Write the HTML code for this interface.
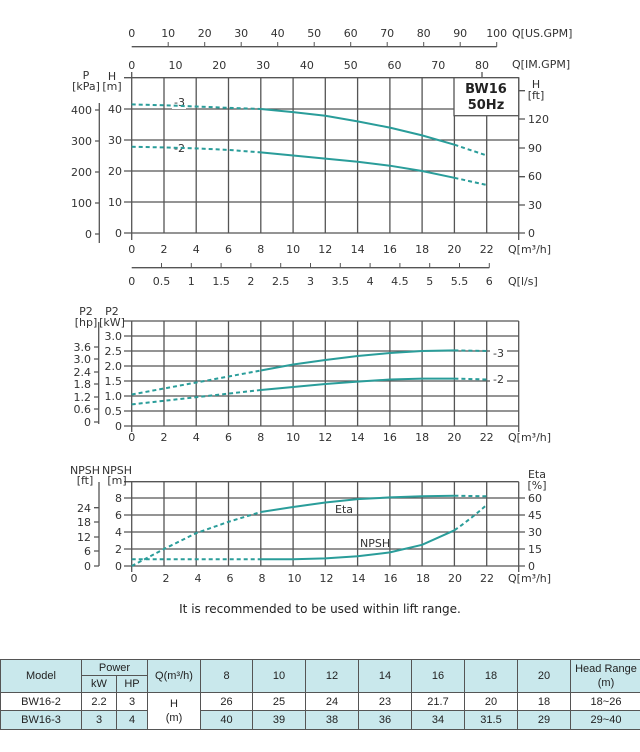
<!DOCTYPE html>
<html><head><meta charset="utf-8"><style>
body{margin:0;background:#fff;width:640px;height:752px;overflow:hidden;position:relative;font-family:"Liberation Sans",sans-serif}
svg{position:absolute;left:0;top:0}
svg text{font-family:"DejaVu Sans","Liberation Sans",sans-serif;font-size:11px;fill:#333}
table{position:absolute;left:0;top:659px;width:640px;border-collapse:collapse;font-size:11px;color:#222;table-layout:fixed}
td{border:1px solid #555;text-align:center;padding:0;line-height:14px}
.b{background:#c9e8ec}
</style></head><body>
<svg width="640" height="752" viewBox="0 0 640 752">
<g stroke="#555" stroke-width="1.3" fill="none">
<path d="M131.7 46.7H496.7"/>
<path d="M131.7 77.7V72M482 77.7V72"/>
<path d="M124 77.7H518.7M124 109H518.7M124 140H518.7M124 171H518.7M124 202H518.7M124 233H518.7"/>
<path d="M131.7 77.7V240M164 77.7V233M196.2 77.7V233M228.5 77.7V233M260.8 77.7V233M293.1 77.7V233M325.3 77.7V233M357.6 77.7V233M389.9 77.7V233M422.1 77.7V233M454.4 77.7V233M486.7 77.7V233M518.7 77.7V240"/>
<path d="M99.3 103V243M95 110H99.3M95 141H99.3M95 172H99.3M95 203H99.3M95 234H99.3"/>
<path d="M518.7 90.7H525M518.7 119H525M518.7 148H525M518.7 176.7H525M518.7 205H525M518.7 233H525"/>
<path d="M131.7 267.7H489.3"/>
<path d="M124 321H518.7M124 336H518.7M124 351H518.7M124 366H518.7M124 381H518.7M124 396H518.7M124 411H518.7M124 426H518.7"/>
<path d="M131.7 321V432M164 321V426M196.2 321V426M228.5 321V426M260.8 321V426M293.1 321V426M325.3 321V426M357.6 321V426M389.9 321V426M422.1 321V426M454.4 321V426M486.7 321V426M518.7 321V432"/>
<path d="M98.7 322V424M94 347H98.7M94 359H98.7M94 372H98.7M94 384H98.7M94 397H98.7M94 409H98.7M94 422H98.7"/>
<path d="M124 481.7H518.7M124 498H525M124 515H525M124 532H525M124 549H525M124 566H525"/>
<path d="M131.7 481.7V572M164 481.7V566M196.2 481.7V566M228.5 481.7V566M260.8 481.7V566M293.1 481.7V566M325.3 481.7V566M357.6 481.7V566M389.9 481.7V566M422.1 481.7V566M454.4 481.7V566M486.7 481.7V566M518.7 481.7V572"/>
<path d="M99 482V566M94 507.7H99M94 522H99M94 537H99M94 551H99M94 566H99"/>
</g>
<g stroke="#555" stroke-width="1">
<path d="M168.2 46.7V42M204.7 46.7V42M241.2 46.7V42M277.7 46.7V42M314.2 46.7V42M350.7 46.7V42M387.2 46.7V42M423.7 46.7V42M460.2 46.7V42M496.7 46.7V42"/>
<path d="M161.5 267.7V263M191.3 267.7V263M221.1 267.7V263M250.9 267.7V263M280.7 267.7V263M310.5 267.7V263M340.3 267.7V263M370.1 267.7V263M399.9 267.7V263M429.7 267.7V263M459.5 267.7V263M489.3 267.7V263"/>
</g>
<rect x="454" y="77.7" width="64.7" height="38" fill="#fff" stroke="#555" stroke-width="1.3"/>
<text x="486" y="93" text-anchor="middle" style="font-size:13px;font-weight:bold;fill:#222">BW16</text>
<text x="486" y="109" text-anchor="middle" style="font-size:13px;font-weight:bold;fill:#222">50Hz</text>
<rect x="490" y="344" width="17" height="14" fill="#fff"/>
<rect x="490" y="372" width="17" height="14" fill="#fff"/>
<g text-anchor="middle">
<text x="131.7" y="37">0</text><text x="168.2" y="37">10</text><text x="204.7" y="37">20</text><text x="241.2" y="37">30</text><text x="277.7" y="37">40</text><text x="314.2" y="37">50</text><text x="350.7" y="37">60</text><text x="387.2" y="37">70</text><text x="423.7" y="37">80</text><text x="460.2" y="37">90</text><text x="496.7" y="37">100</text>
<text x="131.7" y="69">0</text><text x="175.5" y="69">10</text><text x="219.3" y="69">20</text><text x="263.1" y="69">30</text><text x="306.9" y="69">40</text><text x="350.7" y="69">50</text><text x="394.5" y="69">60</text><text x="438.3" y="69">70</text><text x="482" y="69">80</text>
<text x="131.7" y="253">0</text><text x="164" y="253">2</text><text x="196.2" y="253">4</text><text x="228.5" y="253">6</text><text x="260.8" y="253">8</text><text x="293.1" y="253">10</text><text x="325.3" y="253">12</text><text x="357.6" y="253">14</text><text x="389.9" y="253">16</text><text x="422.1" y="253">18</text><text x="454.4" y="253">20</text><text x="486.7" y="253">22</text>
<text x="131.7" y="285">0</text><text x="161.5" y="285">0.5</text><text x="191.3" y="285">1</text><text x="221.1" y="285">1.5</text><text x="250.9" y="285">2</text><text x="280.7" y="285">2.5</text><text x="310.5" y="285">3</text><text x="340.3" y="285">3.5</text><text x="370.1" y="285">4</text><text x="399.9" y="285">4.5</text><text x="429.7" y="285">5</text><text x="459.5" y="285">5.5</text><text x="489.3" y="285">6</text>
<text x="131.7" y="441">0</text><text x="164" y="441">2</text><text x="196.2" y="441">4</text><text x="228.5" y="441">6</text><text x="260.8" y="441">8</text><text x="293.1" y="441">10</text><text x="325.3" y="441">12</text><text x="357.6" y="441">14</text><text x="389.9" y="441">16</text><text x="422.1" y="441">18</text><text x="454.4" y="441">20</text><text x="486.7" y="441">22</text>
<text x="134" y="582">0</text><text x="166" y="582">2</text><text x="198" y="582">4</text><text x="230" y="582">6</text><text x="262" y="582">8</text><text x="294.5" y="582">10</text><text x="326.5" y="582">12</text><text x="358.5" y="582">14</text><text x="390.5" y="582">16</text><text x="423" y="582">18</text><text x="455" y="582">20</text><text x="487" y="582">22</text>
<text x="86" y="79">P</text><text x="86" y="90">[kPa]</text><text x="112" y="80">H</text><text x="112" y="90">[m]</text>
<text x="536" y="88">H</text><text x="536" y="99">[ft]</text>
<text x="86" y="315">P2</text><text x="86" y="326">[hp]</text><text x="112" y="315">P2</text><text x="112" y="326">[kW]</text>
<text x="85" y="474">NPSH</text><text x="85" y="484">[ft]</text><text x="117" y="474">NPSH</text><text x="117" y="484">[m]</text>
<text x="537" y="478">Eta</text><text x="537" y="489">[%]</text>
</g>
<rect x="172" y="97" width="14" height="12" fill="#fff"/>
<rect x="172" y="143" width="14" height="12" fill="#fff"/>
<g text-anchor="start">
<text x="512" y="37">Q[US.GPM]</text><text x="512" y="68">Q[IM.GPM]</text><text x="508" y="253">Q[m³/h]</text><text x="508" y="285">Q[l/s]</text>
<text x="508" y="441">Q[m³/h]</text><text x="508" y="582">Q[m³/h]</text>
<text x="528" y="123">120</text><text x="528" y="152">90</text><text x="528" y="180">60</text><text x="528" y="209">30</text><text x="528" y="237">0</text>
<text x="528" y="502">60</text><text x="528" y="519">45</text><text x="528" y="536">30</text><text x="528" y="553">15</text><text x="528" y="570">0</text>
<text x="174" y="106">-3</text><text x="174" y="152">-2</text>
<text x="493" y="357">-3</text><text x="493" y="383">-2</text>
<text x="335" y="513">Eta</text><text x="360" y="547">NPSH</text>
</g>
<g text-anchor="end">
<text x="92" y="114">400</text><text x="92" y="145">300</text><text x="92" y="176">200</text><text x="92" y="207">100</text><text x="92" y="238">0</text>
<text x="122" y="113">40</text><text x="122" y="144">30</text><text x="122" y="175">20</text><text x="122" y="206">10</text><text x="122" y="237">0</text>
<text x="122" y="340">3.0</text><text x="122" y="355">2.5</text><text x="122" y="370">2.0</text><text x="122" y="385">1.5</text><text x="122" y="400">1.0</text><text x="122" y="415">0.5</text><text x="122" y="430">0</text>
<text x="91" y="351">3.6</text><text x="91" y="363">3.0</text><text x="91" y="376">2.4</text><text x="91" y="388">1.8</text><text x="91" y="401">1.2</text><text x="91" y="413">0.6</text><text x="91" y="426">0</text>
<text x="122" y="502">8</text><text x="122" y="519">6</text><text x="122" y="536">4</text><text x="122" y="553">2</text><text x="122" y="570">0</text>
<text x="91" y="512">24</text><text x="91" y="526">18</text><text x="91" y="541">12</text><text x="91" y="555">6</text><text x="91" y="570">0</text>
</g>
<g fill="none" stroke="#2a9d9a" stroke-width="2">
<g stroke-dasharray="4 3">
<path d="M131.7 104.4L164 105.3L196.2 106.5L228.5 107.8L260.8 109"/>
<path d="M454.4 144.7L486.7 155.5"/>
<path d="M131.7 146.8L164 147.4L196.2 148.4L228.5 149.9L260.8 152.4"/>
<path d="M454.4 177.8L486.7 185"/>
<path d="M131.7 394.5L260.8 370.5"/><path d="M454.4 350.4L486.7 351"/>
<path d="M131.7 404.4L260.8 390"/><path d="M454.4 378.6L486.7 379.5"/>
<path d="M131.7 566L164 549L196.2 533.1L228.5 521.8L260.8 512"/><path d="M454.4 495.7L486.7 496.3"/>
<path d="M131.7 559.2L260.8 559.2"/><path d="M454.4 530.3Q472 518 486.7 504.8"/>
</g>
<path d="M260.8 109L293.1 112.1L325.3 115.8L357.6 121.4L389.9 127.6L422.1 135.4L454.4 144.7"/>
<path d="M260.8 152.4L293.1 155.5L325.3 158.6L357.6 161.7L389.9 165.7L422.1 171L454.4 177.8"/>
<path d="M260.8 370.5L293.1 364.5L325.3 360L357.6 356L389.9 353L422.1 351L454.4 350.4"/>
<path d="M260.8 390L293.1 387L325.3 384L357.6 381.6L389.9 379.5L422.1 378.6L454.4 378.6"/>
<path d="M260.8 512L293.1 507L325.3 502.5L357.6 499.1L389.9 497.4L422.1 496.3L454.4 495.7"/>
<path d="M260.8 559.2L293.1 559.2L325.3 558.4L357.6 556.2L389.9 552.4L422.1 544.8L454.4 530.3"/>
</g>
<text x="320" y="613" text-anchor="middle" style="font-size:12px;fill:#222">It is recommended to be used within lift range.</text>
</svg>
<table>
<colgroup><col style="width:81px"><col style="width:35px"><col style="width:31px"><col style="width:53px"><col style="width:52px"><col style="width:53px"><col style="width:53px"><col style="width:53px"><col style="width:53px"><col style="width:53px"><col style="width:53px"><col style="width:71px"></colgroup>
<tr class="b" style="height:16px"><td rowspan="2">Model</td><td colspan="2">Power</td><td rowspan="2">Q(m³/h)</td><td rowspan="2">8</td><td rowspan="2">10</td><td rowspan="2">12</td><td rowspan="2">14</td><td rowspan="2">16</td><td rowspan="2">18</td><td rowspan="2">20</td><td rowspan="2">Head Range<br>(m)</td></tr>
<tr class="b" style="height:17px"><td>kW</td><td>HP</td></tr>
<tr style="height:18px"><td>BW16-2</td><td>2.2</td><td>3</td><td rowspan="2" style="background:#fff">H<br>(m)</td><td>26</td><td>25</td><td>24</td><td>23</td><td>21.7</td><td>20</td><td>18</td><td>18~26</td></tr>
<tr class="b" style="height:19px"><td>BW16-3</td><td>3</td><td>4</td><td>40</td><td>39</td><td>38</td><td>36</td><td>34</td><td>31.5</td><td>29</td><td>29~40</td></tr>
</table>
</body></html>
